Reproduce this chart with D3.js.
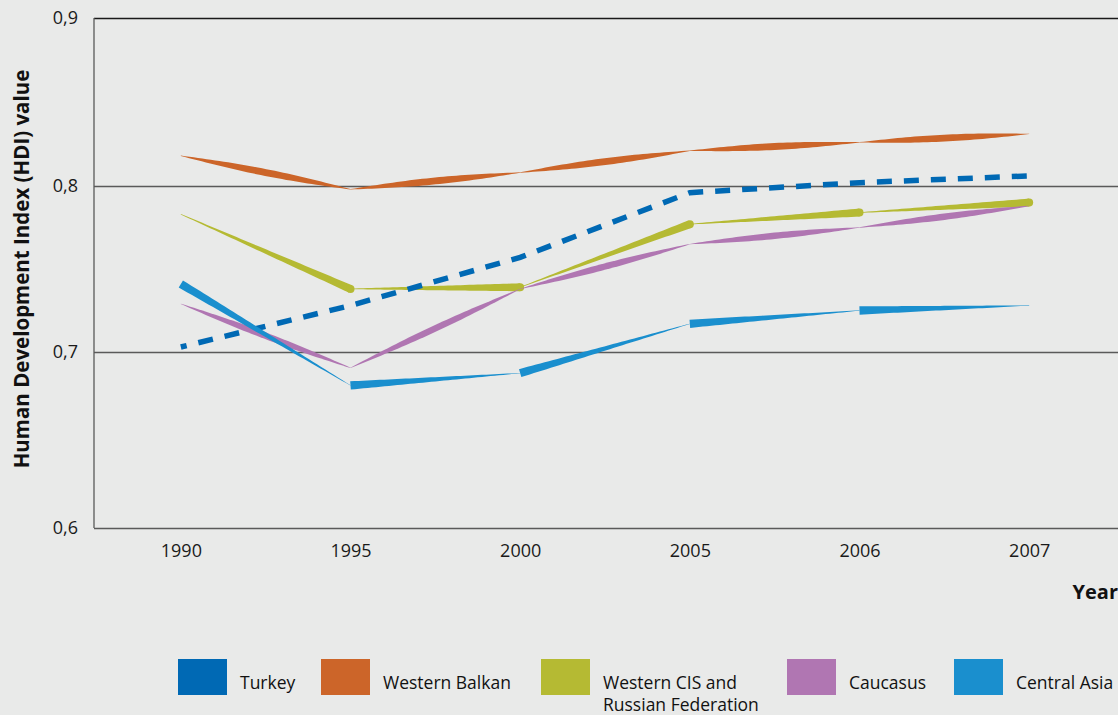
<!DOCTYPE html>
<html><head><meta charset="utf-8">
<script src="https://cdn.jsdelivr.net/npm/d3@7"></script>
<style>
html,body{margin:0;padding:0;background:#e9eae9;}
svg{display:block;font-family:'Open Sans',sans-serif;}
</style>
</head><body>
<svg id="c" width="1118" height="715"></svg>
<script>
const years = [1990, 1995, 2000, 2005, 2006, 2007];
const turkey        = [0.703, 0.728, 0.757, 0.796, 0.802, 0.806];
const westernBalkan = [0.818, 0.798, 0.808, 0.821, 0.826, 0.831];
const westernCIS    = [0.783, 0.738, 0.739, 0.777, 0.784, 0.790];
const caucasus      = [0.729, 0.691, 0.738, 0.765, 0.775, 0.788];
const centralAsia   = [0.741, 0.681, 0.688, 0.717, 0.725, 0.728];
const yTicks = [0.6, 0.7, 0.8, 0.9];
const legendNames = ["Turkey", "Western Balkan", "Western CIS and|Russian Federation", "Caucasus", "Central Asia"];

const colors = {
  turkey: "#0069b4", westernBalkan: "#cc6529", westernCIS: "#b5ba33",
  caucasus: "#b076b2", centralAsia: "#1a8fce"
};

const svg = d3.select("#c");
const plotLeft = 94, plotRight = 1118, plotTop = 18, plotBottom = 528;

const x = d3.scalePoint().domain(years).range([96, 1114]).padding(0.5);
const y = d3.scaleLinear().domain([0.6, 0.7, 0.8, 0.9]).range([528, 352, 186, 18]);

// grid lines
const grid = svg.append("g").attr("transform", `translate(${plotLeft},0)`)
  .call(d3.axisLeft(y).tickValues(yTicks).tickSize(-(plotRight - plotLeft)).tickFormat(""));
grid.select(".domain").remove();
grid.selectAll(".tick line").attr("stroke", d => d === 0.9 ? "#1a1a1a" : "#5a5a5a").attr("stroke-width", 1.3);

// left axis line
svg.append("line").attr("x1", plotLeft).attr("x2", plotLeft).attr("y1", y(0.9)).attr("y2", y(0.6))
  .attr("stroke", "#5a5a5a").attr("stroke-width", 1.3);

// y tick labels
const ya = svg.append("g").attr("transform", `translate(${plotLeft},0)`)
  .call(d3.axisLeft(y).tickValues(yTicks).tickSize(0).tickPadding(16)
    .tickFormat(d => d3.format(".1f")(d).replace(".", ",")));
ya.select(".domain").remove();
ya.selectAll("text").attr("font-size", 18).attr("font-family", "'Open Sans',sans-serif").attr("fill", "#1a1a1a");

// x tick labels
const xa = svg.append("g").attr("transform", `translate(0,${plotBottom})`)
  .call(d3.axisBottom(x).tickSize(0).tickPadding(16));
xa.select(".domain").remove();
xa.selectAll("text").attr("font-size", 18).attr("font-family", "'Open Sans',sans-serif").attr("fill", "#1a1a1a");

// axis titles
svg.append("text").attr("transform", `translate(29,${(68 + 470) / 2}) rotate(-90)`)
  .attr("text-anchor", "middle").attr("font-weight", "bold").attr("font-size", 20.5)
  .attr("fill", "#111").text("Human Development Index (HDI) value");
svg.append("text").attr("x", 1118).attr("y", 599).attr("text-anchor", "end")
  .attr("font-weight", "bold").attr("font-size", 20).attr("fill", "#111").text("Year");

// ribbon generator for variable-width segments
function ribbon(p0, p1, wf, n = 40) {
  const dx = p1[0] - p0[0], dy = p1[1] - p0[1];
  const len = Math.hypot(dx, dy), nx = -dy / len, ny = dx / len;
  const a = [], b = [];
  for (let i = 0; i <= n; i++) {
    const t = i / n, w = wf(t) / 2;
    const px = p0[0] + dx * t, py = p0[1] + dy * t;
    a.push([px + nx * w, py + ny * w]);
    b.push([px - nx * w, py - ny * w]);
  }
  return d3.line()(a.concat(b.reverse())) + "Z";
}

function pts(vals) { return vals.map((v, i) => [x(years[i]), y(v)]); }

function drawSeries(vals, color, wf, cap) {
  const p = pts(vals);
  const g = svg.append("g");
  for (let i = 0; i < p.length - 1; i++) {
    g.append("path").attr("d", ribbon(p[i], p[i + 1], wf)).attr("fill", color);
    if (cap) g.append("circle").attr("cx", p[i + 1][0]).attr("cy", p[i + 1][1]).attr("r", cap).attr("fill", color);
  }
}

const lens = m => t => 0.4 + m * Math.sin(Math.PI * t);

// Western CIS: thin to thick with round cap
drawSeries(westernCIS, colors.westernCIS, t => 0.6 + 7.4 * t, 4);

// Turkey dashed
svg.append("path").datum(pts(turkey))
  .attr("d", d3.line())
  .attr("fill", "none").attr("stroke", colors.turkey).attr("stroke-width", 5.5)
  .attr("stroke-dasharray", "15,12").attr("stroke-dashoffset", 9);

// Caucasus lens
drawSeries(caucasus, colors.caucasus, lens(6));
// Western Balkan lens
drawSeries(westernBalkan, colors.westernBalkan, lens(6.5));
// Central Asia: thick to thin
drawSeries(centralAsia, colors.centralAsia, t => 8 * (1 - t) + 0.3);

// legend
const legendX = [178, 321, 541, 787, 954];
const legendKeys = ["turkey", "westernBalkan", "westernCIS", "caucasus", "centralAsia"];
const lg = svg.append("g");
legendKeys.forEach((k, i) => {
  lg.append("rect").attr("x", legendX[i]).attr("y", 659).attr("width", 49).attr("height", 36)
    .attr("fill", colors[k]);
  const t = lg.append("text").attr("x", legendX[i] + 62).attr("y", 689)
    .attr("font-size", 17.5).attr("fill", "#111");
  legendNames[i].split("|").forEach((line, j) => {
    t.append("tspan").attr("x", legendX[i] + 62).attr("dy", j ? 22 : 0).text(line);
  });
});
</script>
</body></html>
